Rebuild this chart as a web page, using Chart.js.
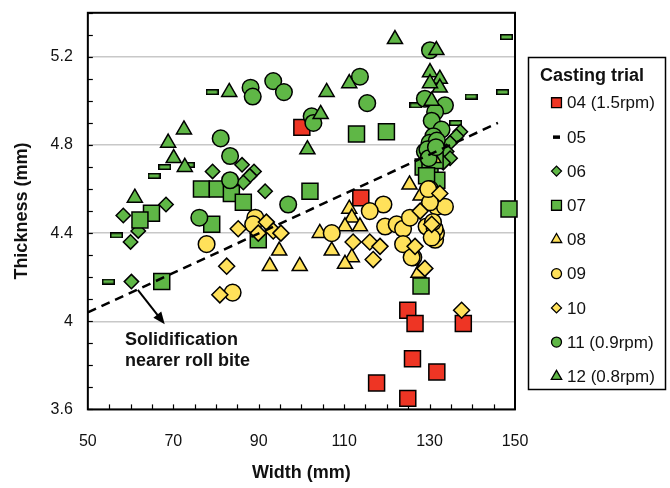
<!DOCTYPE html>
<html>
<head>
<meta charset="utf-8">
<script src="https://cdn.jsdelivr.net/npm/chart.js@4.4.1/dist/chart.umd.min.js"></script>
<style>
  html, body { margin: 0; padding: 0; background: #fff; }
</style>
</head>
<body>
<canvas id="graph" width="670" height="488"></canvas>
<script>
// series in legend order
const seriesNames = ['04 (1.5rpm)', '05', '06', '07', '08', '09', '10', '11 (0.9rpm)', '12 (0.8rpm)'];

const xTickValues = [50, 70, 90, 110, 130, 150];
const xTickLabels = ['50', '70', '90', '110', '130', '150'];
const yTickValues = [3.6, 4, 4.4, 4.8, 5.2];
const yTickLabels = ['3.6', '4', '4.4', '4.8', '5.2'];

// 04 (1.5rpm)
const x04 = [100.1, 113.9, 124.9, 126.6, 137.9, 126.0, 131.7, 117.6, 124.9, 132.8];
const y04 = [4.88, 4.56, 4.05, 3.99, 3.99, 3.83, 3.77, 3.72, 3.65, 4.76];
// 05
const x05 = [54.8, 56.7, 65.5, 68.0, 73.5, 79.1, 126.8, 136.1, 139.7, 147.1, 148.0];
const y05 = [4.18, 4.39, 4.66, 4.70, 4.71, 5.04, 4.98, 4.90, 5.02, 5.04, 5.29];
// 06
const x06 = [79.2, 86.1, 88.9, 87.9, 86.4, 91.5, 68.3, 58.3, 61.8, 60.0, 60.2, 137.2, 136.3, 134.8, 134.0, 134.8, 133.2];
const y06 = [4.68, 4.71, 4.68, 4.66, 4.63, 4.59, 4.53, 4.48, 4.41, 4.36, 4.18, 4.86, 4.84, 4.81, 4.77, 4.74, 4.72];
// 07
const x07 = [76.6, 80.3, 83.6, 86.4, 64.9, 62.2, 79.0, 67.3, 89.9, 102.0, 112.9, 119.9, 148.6, 128.0, 128.5, 130.1, 131.7, 131.3, 129.3];
const y07 = [4.60, 4.60, 4.58, 4.54, 4.49, 4.46, 4.44, 4.18, 4.37, 4.59, 4.85, 4.86, 4.51, 4.16, 4.70, 4.69, 4.64, 4.73, 4.66];
// 08
const x08 = [125.3, 111.2, 111.8, 110.2, 113.7, 104.3, 107.1, 111.8, 110.2, 99.6, 127.4, 127.9, 92.6, 94.8, 130.9];
const y08 = [4.62, 4.51, 4.47, 4.43, 4.43, 4.40, 4.32, 4.29, 4.26, 4.25, 4.22, 4.57, 4.25, 4.32, 4.74];
// 09
const x09 = [119.2, 116.0, 107.1, 119.6, 122.3, 123.8, 125.4, 123.8, 126.2, 130.1, 131.7, 133.6, 129.3, 131.3, 131.5, 131.2, 130.8, 130.1, 129.7, 77.8, 83.9, 89.2, 88.7, 125.8, 130.5];
const y09 = [4.53, 4.50, 4.40, 4.43, 4.44, 4.42, 4.47, 4.35, 4.29, 4.60, 4.52, 4.52, 4.43, 4.37, 4.40, 4.42, 4.45, 4.54, 4.60, 4.35, 4.13, 4.47, 4.44, 4.29, 4.38];
// 10
const x10 = [85.2, 82.5, 80.9, 91.8, 89.9, 93.4, 95.2, 112.1, 116.0, 118.4, 116.8, 126.6, 127.8, 132.4, 130.5, 128.9, 137.5];
const y10 = [4.42, 4.25, 4.12, 4.45, 4.40, 4.41, 4.40, 4.36, 4.36, 4.34, 4.28, 4.34, 4.50, 4.58, 4.44, 4.24, 4.05];
// 11 (0.9rpm)
const x11 = [88.1, 88.6, 93.4, 95.9, 81.1, 83.3, 83.3, 76.1, 96.9, 113.7, 115.4, 102.4, 102.8, 130.1, 128.9, 133.6, 131.3, 130.5, 132.8, 130.9, 130.0, 128.9, 131.7, 129.5, 129.8, 131.5];
const y11 = [5.06, 5.02, 5.09, 5.04, 4.83, 4.75, 4.64, 4.47, 4.53, 5.11, 4.99, 4.93, 4.90, 5.23, 5.01, 4.98, 4.95, 4.91, 4.87, 4.84, 4.81, 4.77, 4.82, 4.78, 4.74, 4.79];
// 12 (0.8rpm)
const x12 = [83.1, 72.5, 68.8, 70.1, 72.7, 61.0, 121.9, 131.6, 105.9, 111.2, 104.5, 101.4, 130.1, 132.4, 132.4, 130.1, 130.5];
const y12 = [5.04, 4.87, 4.81, 4.74, 4.70, 4.56, 5.28, 5.23, 5.04, 5.08, 4.94, 4.78, 5.13, 5.10, 5.06, 5.08, 5.00];

// dashed trend line
const trendX = [50, 146];
const trendY = [4.04, 4.90];

const xs = [x04, x05, x06, x07, x08, x09, x10, x11, x12];
const ys = [y04, y05, y06, y07, y08, y09, y10, y11, y12];

const RED = '#ee3524', GREEN = '#5fb746', YELLOW = '#ffe15a';
const FONT = "'Liberation Sans', Arial, sans-serif";

function dashMarker(w, h, fill) {
  const c = document.createElement('canvas');
  c.width = w; c.height = h;
  const g = c.getContext('2d');
  g.fillStyle = fill;
  g.fillRect(0, 0, w, h);
  g.strokeStyle = '#000';
  g.lineWidth = 1.5;
  g.strokeRect(0.75, 0.75, w - 1.5, h - 1.5);
  return c;
}
const dash = dashMarker(13, 6, GREEN);

const styles = ['rect', dash, 'rectRot', 'rect', 'triangle', 'circle', 'rectRot', 'circle', 'triangle'];
const fills = [RED, GREEN, GREEN, GREEN, YELLOW, YELLOW, YELLOW, GREEN, GREEN];
const radii = [11.3, 6, 7.2, 11.3, 8.7, 8.3, 8, 8.3, 8.7];
const legendRadii = [7, 3, 5, 7, 6, 5, 5, 5, 6];

const datasets = seriesNames.map((name, i) => ({
  label: name,
  data: xs[i].map((x, j) => ({ x: x, y: ys[i][j] })),
  pointStyle: styles[i],
  pointRadius: radii[i],
  pointHoverRadius: radii[i],
  backgroundColor: fills[i],
  borderColor: '#000',
  pointBorderWidth: 1.5,
  order: seriesNames.length - i,
  clip: false
}));
datasets.push({
  type: 'line',
  label: 'trend',
  data: trendX.map((x, j) => ({ x: x, y: trendY[j] })),
  borderColor: '#000',
  borderWidth: 2.5,
  borderDash: [9, 6],
  pointRadius: 0,
  fill: false,
  order: -1
});

const framePlugin = {
  id: 'frame',
  beforeDatasetsDraw(chart) {
    const { ctx, chartArea: a, scales } = chart;
    ctx.save();
    ctx.strokeStyle = '#000';
    ctx.lineWidth = 1.2;
    // inward ticks
    for (let v = 3.6; v <= 5.401; v += 0.1) {
      const py = Math.round(scales.y.getPixelForValue(v)) + 0.5;
      ctx.beginPath(); ctx.moveTo(a.left, py); ctx.lineTo(a.left + 5, py); ctx.stroke();
    }
    for (let v = 55; v < 150; v += 5) {
      const px = Math.round(scales.x.getPixelForValue(v)) + 0.5;
      ctx.beginPath(); ctx.moveTo(px, a.bottom); ctx.lineTo(px, a.bottom - 5); ctx.stroke();
    }
    ctx.lineWidth = 2;
    ctx.strokeRect(a.left, a.top, a.right - a.left, a.bottom - a.top);
    ctx.restore();
  }
};

const notePlugin = {
  id: 'note',
  afterDatasetsDraw(chart) {
    const { ctx, scales } = chart;
    const x0 = scales.x.getPixelForValue(61.7), y0 = scales.y.getPixelForValue(4.143);
    const x1 = scales.x.getPixelForValue(68.0), y1 = scales.y.getPixelForValue(3.987);
    const ang = Math.atan2(y1 - y0, x1 - x0);
    ctx.save();
    ctx.strokeStyle = '#000';
    ctx.fillStyle = '#000';
    ctx.lineWidth = 2;
    ctx.beginPath();
    ctx.moveTo(x0, y0);
    ctx.lineTo(x1 - 9 * Math.cos(ang), y1 - 9 * Math.sin(ang));
    ctx.stroke();
    ctx.beginPath();
    ctx.moveTo(x1, y1);
    ctx.lineTo(x1 - 12 * Math.cos(ang) + 5 * Math.sin(ang), y1 - 12 * Math.sin(ang) - 5 * Math.cos(ang));
    ctx.lineTo(x1 - 12 * Math.cos(ang) - 5 * Math.sin(ang), y1 - 12 * Math.sin(ang) + 5 * Math.cos(ang));
    ctx.closePath();
    ctx.fill();
    ctx.font = 'bold 18px ' + FONT;
    ctx.fillStyle = '#111';
    ctx.textAlign = 'left';
    ctx.textBaseline = 'middle';
    const tx = scales.x.getPixelForValue(58.7);
    ctx.fillText('Solidification', tx, scales.y.getPixelForValue(3.915));
    ctx.fillText('nearer roll bite', tx, scales.y.getPixelForValue(3.82));
    ctx.restore();
  }
};

const legendPlugin = {
  id: 'boxLegend',
  afterDraw(chart) {
    const ctx = chart.ctx;
    ctx.save();
    ctx.strokeStyle = '#000';
    ctx.lineWidth = 1.5;
    ctx.strokeRect(528.5, 57.5, 137, 332);
    ctx.fillStyle = '#111';
    ctx.font = 'bold 18px ' + FONT;
    ctx.textBaseline = 'middle';
    ctx.textAlign = 'left';
    ctx.fillText('Casting trial', 540, 76);
    ctx.font = '17px ' + FONT;
    seriesNames.forEach((name, i) => {
      const cy = 102.7 + i * 34.2;
      const cx = 556.5;
      ctx.fillStyle = fills[i];
      ctx.strokeStyle = '#000';
      ctx.lineWidth = 1.3;
      if (i === 1) {
        ctx.fillStyle = '#000';
        ctx.fillRect(cx - 3.5, cy - 1.5, 7, 3.5);
      } else {
        Chart.helpers.drawPoint(ctx, { pointStyle: styles[i], radius: legendRadii[i], rotation: 0, borderWidth: 1.3 }, cx, cy);
      }
      ctx.fillStyle = '#111';
      ctx.fillText(name, 567, cy + 1);
    });
    ctx.restore();
  }
};

new Chart(document.getElementById('graph'), {
  type: 'scatter',
  data: { datasets: datasets },
  options: {
    responsive: false,
    animation: false,
    layout: { padding: { left: 6, right: 155, top: 8, bottom: 2 } },
    plugins: {
      legend: { display: false },
      tooltip: { enabled: false }
    },
    scales: {
      x: {
        type: 'linear',
        min: 50, max: 150,
        afterBuildTicks: s => { s.ticks = xTickValues.map(v => ({ value: v })); },
        ticks: { callback: (v, i) => xTickLabels[i], padding: 0, maxRotation: 0, color: '#111', font: { size: 16, lineHeight: 1, family: FONT } },
        grid: { color: 'rgba(0,0,0,0)', drawTicks: true, tickLength: 24, tickColor: 'rgba(0,0,0,0)' },
        border: { display: false },
        title: { display: true, text: 'Width (mm)', color: '#111', font: { size: 18, weight: 'bold', family: FONT }, padding: { top: 13, bottom: 2 } }
      },
      y: {
        min: 3.6, max: 5.4,
        afterBuildTicks: s => { s.ticks = yTickValues.map(v => ({ value: v })); },
        ticks: { callback: (v, i) => yTickLabels[i], padding: 0, color: '#111', font: { size: 16, lineHeight: 1, family: FONT } },
        grid: { color: '#c8c8c8', lineWidth: 1.5, drawTicks: true, tickLength: 15, tickColor: 'rgba(0,0,0,0)' },
        border: { display: false },
        title: { display: true, text: 'Thickness (mm)', color: '#111', font: { size: 18, weight: 'bold', family: FONT }, padding: { top: 5, bottom: 18 } }
      }
    }
  },
  plugins: [framePlugin, notePlugin, legendPlugin]
});
</script>
</body>
</html>
